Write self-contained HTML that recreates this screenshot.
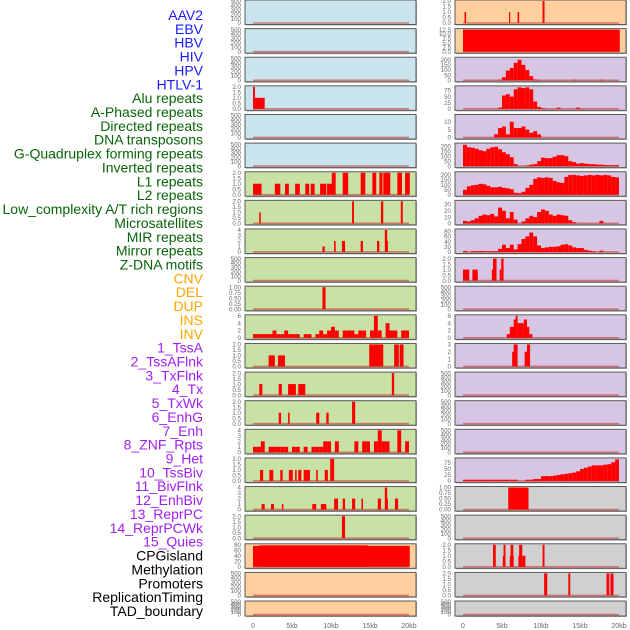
<!DOCTYPE html>
<html><head><meta charset="utf-8"><style>
html,body{margin:0;padding:0;background:#fff;}
svg{display:block;font-family:"Liberation Sans",sans-serif;}
</style></head><body>
<svg id="chart" width="630" height="630" viewBox="0 0 630 630" xmlns="http://www.w3.org/2000/svg"></svg>
<script>
// ---------- data ----------
const trackLabels = ["AAV2","EBV","HBV","HIV","HPV","HTLV-1","Alu repeats","A-Phased repeats","Directed repeats","DNA transposons","G-Quadruplex forming repeats","Inverted repeats","L1 repeats","L2 repeats","Low_complexity A/T rich regions","Microsatellites","MIR repeats","Mirror repeats","Z-DNA motifs","CNV","DEL","DUP","INS","INV","1_TssA","2_TssAFlnk","3_TxFlnk","4_Tx","5_TxWk","6_EnhG","7_Enh","8_ZNF_Rpts","9_Het","10_TssBiv","11_BivFlnk","12_EnhBiv","13_ReprPC","14_ReprPCWk","15_Quies","CPGisland","Methylation","Promoters","ReplicationTiming","TAD_boundary"];
const labelGroups = ["virus","virus","virus","virus","virus","virus","repeat","repeat","repeat","repeat","repeat","repeat","repeat","repeat","repeat","repeat","repeat","repeat","repeat","sv","sv","sv","sv","sv","chrom","chrom","chrom","chrom","chrom","chrom","chrom","chrom","chrom","chrom","chrom","chrom","chrom","chrom","chrom","reg","reg","reg","reg","reg"];
const xTicks = [0,5,10,15,20];
const xTickLabels = ["0","5kb","10kb","15kb","20kb"];
const binWidthKb = 0.5;

const leftBg = ["blue","blue","blue","blue","blue","blue","green","green","green","green","green","green","green","green","green","green","green","green","green","peach","peach","peach"];
const leftScale = ["e","e","e","two","e","e","two","two","four","e","one","six","two","two","two","four","two","four","two","eighty","e","e"];
const leftBars = [
 [],[],[],
 [[0,0.25,2],[0.25,1.5,1]],
 [],[],
 [[0,1.1,1],[2.8,3.5,1],[4.1,4.6,1],[5.4,6.0,1],[6.7,7.2,1],[7.4,7.9,1],[8.6,9.4,1],[9.5,10.2,1],[10.1,10.6,2],[11.5,12.2,2],[13.8,14.4,2],[15.3,15.8,2],[16.2,16.6,2],[16.7,17.6,2],[18.5,19.1,2],[19.5,20.1,2]],
 [[0.8,1.0,1],[12.7,12.95,2],[16.4,16.7,2],[18.95,19.2,2]],
 [[8.9,9.2,1],[10.4,10.6,2],[11.4,11.8,2],[13.8,14.1,2],[15.9,16.2,2],[16.9,17.2,4],[17.1,17.3,2]],
 [],
 [[8.9,9.3,1]],
 [],
 [[2.0,2.8,1],[3.2,4.1,1],[14.9,16.7,2],[18.1,18.7,2],[18.8,19.3,2]],
 [[0.8,1.2,1],[3.3,3.7,1],[4.5,5.5,1],[5.8,6.7,1],[17.8,18.1,2]],
 [[3.3,3.6,1],[4.5,4.7,1],[8.1,8.5,1],[9.4,9.7,1],[12.7,13.1,2]],
 [],
 [[0.9,1.3,1],[2.1,2.6,1],[3.5,3.8,1],[4.6,5.1,1],[5.4,5.6,1],[5.8,6.2,1],[6.5,7.3,1],[8.1,8.3,1],[9.2,9.6,1],[9.9,10.4,2]],
 [[1.1,1.5,1],[2.3,2.7,1],[3.7,3.9,1],[7.6,8.1,1],[8.7,9.4,1],[10.4,10.9,2],[11.5,11.8,2],[12.7,13.1,2],[13.9,14.1,2],[16.0,16.4,2],[16.9,17.2,4],[17.1,17.3,2],[18.2,18.6,2]],
 [[11.4,11.8,2]],
 [[0,20.1,76],[0.8,14.7,78]],
 [],[]
];
const leftBins11 = [1,1,1,1,1,2,1,1,2,1,1,1,0,1,1,0,1,2,1,2,3,2,0,2,2,2,1,2,2,0,2,6,2,0,4,2,2,0,2,2];
const leftBins15 = [1,1,2,0,1,1,1,1,1,0,1,1,0,1,0,1,1,1,2,2,0,2,0,0,0,0,2,0,2,2,0,2,4,2,2,0,0,4,0,2];

const rightBg = ["peach","peach","lav","lav","lav","lav","lav","lav","lav","lav","lav","lav","lav","lav","lav","lav","lav","grey","grey","grey","grey","grey"];
const rightScale = ["two","twelve","r200","r75","r10","r200b","r200b","r30","r80","two","e","six","three","e","e","e","r75b","one","e","two","two","e"];
const rightBars = [
 [[0.2,0.4,1],[5.9,6.05,1],[7.0,7.2,1],[10.2,10.45,2]],
 [[0,20.1,12.5]],
 [],[],[],[],[],[],[],
 [[0,0.8,1],[1.2,1.9,1],[3.7,4.0,1],[3.85,4.3,2],[4.7,4.9,1],[4.9,5.2,2]],
 [],
 [[5.6,6.1,1],[6.0,6.6,3],[6.5,6.8,5],[6.75,7.0,6],[7.0,7.8,4],[7.8,8.2,5],[8.2,8.5,3],[8.5,8.9,1]],
 [[6.3,6.55,2],[6.5,7.0,3],[7.9,8.2,2],[8.2,8.6,3]],
 [],[],[],[],
 [[5.8,8.4,1]],
 [],
 [[3.85,4.2,2],[5.1,5.4,1],[5.2,5.45,2],[6.0,6.5,1],[6.1,6.45,2],[7.1,7.5,1],[7.2,7.6,2],[7.6,8.0,1],[10.2,10.45,2]],
 [[10.4,10.8,2],[13.5,13.75,2],[18.4,18.75,2],[18.9,19.3,2]],
 []
];
const rightBins2 = [0,0,0,0,0,0,0,0,0,5,30,95,120,170,200,150,100,40,8,3,0,0,0,0,0,0,0,0,5,0,0,0,0,0,0,5,0,0,0,0];
const rightBins3 = [0,0,0,0,0,0,0,0,0,5,55,60,50,80,88,85,88,80,30,8,3,0,0,0,5,0,0,0,0,5,0,0,0,0,0,0,0,0,0,0];
const rightBins4 = [0,0,0,0,0,0,0,0,2,6,7,2,10,6,6,7,5,3,4,2,0,0,0,0,0,0,0,0,0,0,0,0,0,0,0,0,0,0,0,0];
const rightBins5 = [215,190,185,175,160,150,175,190,195,170,140,120,90,20,0,0,5,15,20,50,85,80,80,95,110,110,100,50,40,25,30,25,20,20,15,15,10,10,8,10];
const rightBins6 = [50,85,95,100,110,105,90,75,75,80,70,65,55,20,15,30,70,100,160,175,170,175,170,140,125,120,180,200,200,195,190,195,200,195,200,195,200,195,180,175];
const rightBins7 = [4,3,5,8,12,14,13,15,11,25,20,8,18,6,0,3,8,12,10,18,22,20,14,12,14,13,12,5,2,0,0,0,0,0,0,4,0,0,0,0];
const rightBins8 = [4,0,3,3,4,3,3,3,3,12,28,15,28,10,30,50,60,75,60,25,15,18,20,20,22,28,30,25,18,15,15,8,5,3,0,5,0,0,0,0];
const rightBins16 = [5,5,5,5,5,5,5,5,5,5,5,5,5,5,0,0,5,5,8,8,20,20,20,22,25,28,30,32,35,40,50,55,60,65,65,65,68,70,78,90];

// ---------- drawing ----------
const NS = "http://www.w3.org/2000/svg";
const svg = document.getElementById("chart");
function mk(tag, attrs, parent){ const e=document.createElementNS(NS,tag); for(const k in attrs) e.setAttribute(k,attrs[k]); (parent||svg).appendChild(e); return e; }

const bgColors = {blue:"#c9e4ec", green:"#c8e1a5", peach:"#ffd09e", lav:"#d6c6e3", grey:"#d0d0d0"};
const labelColors = {virus:"#1a1aff", repeat:"#0a640a", sv:"#ffa500", chrom:"#a020f0", reg:"#000000"};
const scales = {
 e:{max:500,ticks:[0,100,200,300,400,500],fmt:v=>String(v)},
 two:{max:2,ticks:[0,0.5,1,1.5,2],fmt:v=>v.toFixed(1)},
 one:{max:1,ticks:[0,0.25,0.5,0.75,1],fmt:v=>v.toFixed(2)},
 four:{max:4,ticks:[0,1,2,3,4],fmt:v=>String(v)},
 six:{max:6,ticks:[0,2,4,6],fmt:v=>String(v)},
 three:{max:3,ticks:[0,1,2,3],fmt:v=>String(v)},
 eighty:{max:80,ticks:[0,20,40,60,80],fmt:v=>String(v)},
 twelve:{max:12.5,ticks:[0,2.5,5,7.5,10,12.5],fmt:v=>v.toFixed(1)},
 r200:{max:215,ticks:[0,50,100,150,200],fmt:v=>String(v)},
 r200b:{max:222,ticks:[0,50,100,150,200],fmt:v=>String(v)},
 r75:{max:90,ticks:[0,25,50,75],fmt:v=>String(v)},
 r75b:{max:92,ticks:[0,25,50,75],fmt:v=>String(v)},
 r10:{max:14,ticks:[0,5,10],fmt:v=>String(v)},
 r30:{max:35,ticks:[0,10,20,30],fmt:v=>String(v)},
 r80:{max:85,ticks:[0,20,40,60,80],fmt:v=>String(v)}
};
const ROWP = 28.62;
function rowTop(r){ return r*ROWP; }
function rowH(r){ return r===21 ? 15 : 24.5; }

function binsToBars(bins){ return bins.map((v,i)=>[i*binWidthKb,(i+1)*binWidthKb,v]).filter(b=>b[2]>0); }

function drawPanel(col, r, bg, scaleKey, bars){
  const x0 = col===0 ? 245 : 455;
  const zeroX = col===0 ? 253 : 463;
  const pxPerKb = 7.8;
  const xs = kb => zeroX + kb*pxPerKb;
  const top = rowTop(r), h = rowH(r);
  const sc = scales[scaleKey];
  const yBase = top + h - 1.5, yTop = top + 1;
  const ys = v => yBase - (v/sc.max)*(yBase-yTop);
  const g = mk("g",{});
  
  
  mk("rect",{x:x0+1,y:top+1,width:171,height:h,fill:"#aaa"},g);
  const bgR = mk("rect",{x:x0,y:top,width:171,height:h,fill:bgColors[bg],stroke:"#5a5a5a","stroke-width":1},g);
  
  
  mk("line",{x1:xs(0),x2:xs(20),y1:yBase,y2:yBase,stroke:"rgba(200,40,40,0.55)","stroke-width":1.6},g);
  bars.forEach(b=>{
    const rc = mk("rect",{x:xs(b[0]),y:ys(b[2]),width:Math.max(1,xs(b[1])-xs(b[0])),height:yBase-ys(b[2]),fill:"#ff0000"},g);
    
    
  });
  sc.ticks.forEach(t=>{
    const tx = mk("text",{x:x0-4,y:ys(t)+2.2,"font-size":6.2,fill:"#6a6a6a","text-anchor":"end"},g);
    tx.textContent = sc.fmt(t);
    
    
  });
}

for(let r=0;r<22;r++){
  let lb = leftBars[r];
  if(r===11) lb = binsToBars(leftBins11);
  if(r===15) lb = binsToBars(leftBins15);
  drawPanel(0,r,leftBg[r],leftScale[r],lb);
  let rb = rightBars[r];
  const binMap = {2:rightBins2,3:rightBins3,4:rightBins4,5:rightBins5,6:rightBins6,7:rightBins7,8:rightBins8,16:rightBins16};
  if(binMap[r]) rb = binsToBars(binMap[r]);
  drawPanel(1,r,rightBg[r],rightScale[r],rb);
}

[253,463].forEach((zx,ci)=>{
  xTicks.forEach((t,i)=>{
    const tx = mk("text",{x:zx+t*7.8,y:628,"font-size":7,fill:"#666","text-anchor":"middle"});
    tx.textContent = xTickLabels[i];
    
    
  });
});

trackLabels.forEach((s,i)=>{
  const tx = mk("text",{x:203,y:15+i*13.86+5,"font-size":14,fill:labelColors[labelGroups[i]],"text-anchor":"end"});
  tx.textContent = s;
  
  
});
</script>
</body></html>
